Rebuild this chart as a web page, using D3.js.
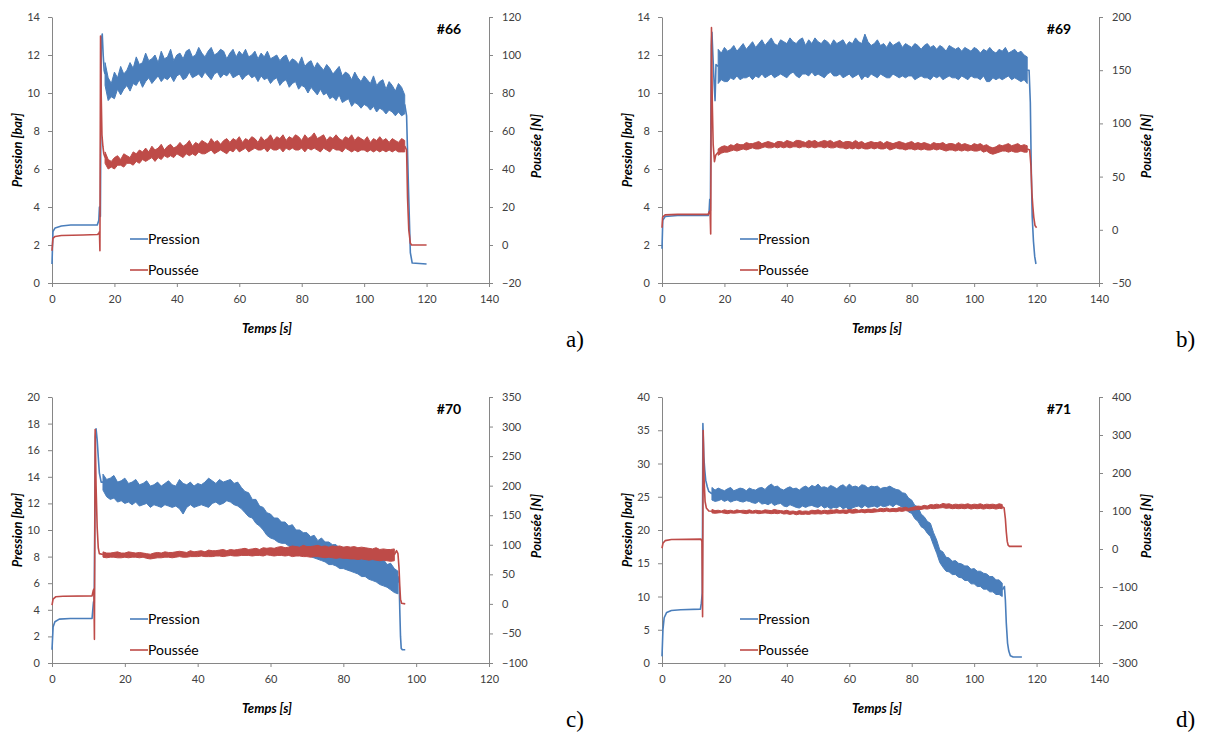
<!DOCTYPE html>
<html><head><meta charset="utf-8">
<script src="https://cdn.jsdelivr.net/npm/d3@7"></script>
<style>body{margin:0;background:#fff}svg{display:block}</style>
</head><body>
<svg id="chart" width="1206" height="735"></svg>
<script>
// ---------------- DATA ----------------
const seriesNames = ["Pression", "Poussée"];
const testIds = ["#66", "#69", "#70", "#71"];
const panelLetters = ["a)", "b)", "c)", "d)"];

const xTicks66 = [0,20,40,60,80,100,120,140];
const xTicks69 = [0,20,40,60,80,100,120,140];
const xTicks70 = [0,20,40,60,80,100,120];
const xTicks71 = [0,20,40,60,80,100,120,140];
const pTicks66 = [0,2,4,6,8,10,12,14];
const pTicks69 = [0,2,4,6,8,10,12,14];
const pTicks70 = [0,2,4,6,8,10,12,14,16,18,20];
const pTicks71 = [0,5,10,15,20,25,30,35,40];
const fTicks66 = [-20,0,20,40,60,80,100,120];
const fTicks69 = [-50,0,50,100,150,200];
const fTicks70 = [-100,-50,0,50,100,150,200,250,300,350];
const fTicks71 = [-300,-200,-100,0,100,200,300,400];

// Each signal: head [t,v] pairs, a noisy steady part given as per-second
// max (Hi) / min (Lo) envelopes starting at *Start, and tail [t,v] pairs.
// Pressure in bar, thrust (Poussée) in N.

// ---- #66 ----
const pres66Head = [[0,1.0],[0.3,2.7],[1,2.9],[3,3.0],[6,3.05],[10,3.05],[14.5,3.05],[15,3.3],[15.2,4.0],[15.5,3.5],[15.8,12.8],[16.1,13.1],[16.4,12.0],[16.7,11.2]];
const pres66Start = 17;
const pres66Hi = [11.6,10.8,10.5,11.1,10.8,11.4,11.0,11.2,11.6,11.3, 11.9,11.5,11.6,12.1,11.7,11.8,12.0,11.6,12.2,11.8, 11.9,12.3,11.7,12.0,12.1,11.8,12.2,12.3,11.9,12.0, 12.4,12.1,11.9,12.2,12.4,12.0,12.1,12.3,12.2,11.8, 12.1,12.3,11.9,12.2,12.0,12.3,11.9,12.0,12.2,11.8, 12.1,11.9,12.2,11.8,11.9,12.0,11.7,11.9,12.0,11.6, 11.8,11.7,11.5,11.9,11.4,11.6,11.7,11.3,11.6,11.4, 11.2,11.5,11.3,11.0,11.2,11.4,10.9,11.1,11.0,10.7, 11.1,10.8,10.6,10.9,10.7,10.5,10.9,10.4,10.6,10.7, 10.2,10.6,10.4,10.1,10.5,10.3,9.9];
const pres66Lo = [10.4,9.6,9.8,9.7,10.2,9.9,10.2,10.4,10.1,10.5, 10.4,10.7,10.3,10.6,10.8,10.5,10.7,10.9,10.6,10.8, 10.7,10.9,10.6,10.9,11.0,10.7,10.8,11.1,10.8,10.9, 11.0,10.8,11.1,10.9,10.7,11.0,11.1,10.8,11.0,10.9, 11.1,10.8,10.9,11.0,10.7,10.9,11.0,10.8,10.9,10.6, 10.9,10.7,10.8,10.5,10.7,10.8,10.4,10.6,10.7,10.3, 10.5,10.6,10.2,10.4,10.3,10.0,10.3,10.1,9.9,10.2, 9.9,10.0,9.7,9.8,9.6,9.9,9.5,9.6,9.7,9.3, 9.5,9.4,9.2,9.4,9.3,9.1,9.3,9.0,9.2,9.1, 8.9,9.1,9.0,8.8,9.0,8.8,8.9];
const pres66Tail = [[113.6,8.8],[114.2,5.0],[114.8,1.6],[115.4,1.05],[120,1.0]];
const thr66Head = [[0,-3],[0.3,3.5],[1,4.5],[3,5],[10,5.3],[14.5,5.5],[15,6],[15.2,7],[15.35,-3],[15.55,110],[15.75,80],[16,58],[16.3,52],[16.6,48]];
const thr66Start = 17;
const thr66Hi = [49,45,44,46,47,45,48,47,46,49, 48,50,49,51,49,52,50,51,53,50, 52,53,51,52,54,52,53,55,52,54, 53,55,54,53,56,54,55,53,55,56, 54,56,55,57,54,56,55,57,56,54, 57,55,56,58,55,57,56,58,55,57, 56,58,57,55,58,56,57,59,56,57, 58,55,57,56,58,56,55,57,56,58, 55,57,56,55,57,54,56,55,57,55, 56,54,56,55,54,56,55];
const thr66Lo = [43,40,41,40,42,42,41,43,43,42, 44,43,45,44,45,46,44,46,45,47, 46,47,46,48,47,46,48,47,48,47, 49,48,48,49,50,48,49,50,49,48, 50,49,51,49,50,51,49,50,51,50, 50,51,49,51,50,50,51,49,51,50, 51,50,50,51,49,51,50,51,50,49, 51,50,49,51,50,50,49,51,50,49, 50,49,50,50,49,50,49,50,49,50, 49,50,49,50,49,49,49];
const thr66Tail = [[113.6,50],[113.9,25],[114.3,8],[114.8,1],[115.2,0],[120,0]];

// ---- #69 ----
const pres69Head = [[0,1.8],[0.25,3.3],[1,3.5],[5,3.55],[14.8,3.55],[15.1,3.8],[15.3,4.4],[15.5,3.8],[15.8,12.5],[16.0,13.2],[16.3,12.0],[16.7,10.5],[17,9.6],[17.3,11.5]];
const pres69Start = 18;
const pres69Hi = [12.3,12.1,12.4,12.2,12.3,12.5,12.2,12.4,12.6,12.3, 12.5,12.7,12.4,12.6,12.8,12.5,12.7,12.9,12.6,12.5, 12.8,12.7,12.6,12.9,12.7,12.6,12.8,12.9,12.5,12.8, 12.6,12.9,12.7,12.6,12.8,12.7,12.5,12.8,12.6,12.7, 12.8,12.5,12.7,12.6,12.9,12.7,12.6,13.1,12.7,12.5, 12.6,12.8,12.5,12.6,12.4,12.7,12.5,12.6,12.7,12.4, 12.6,12.5,12.4,12.6,12.5,12.3,12.5,12.6,12.4,12.5, 12.3,12.5,12.4,12.2,12.5,12.4,12.3,12.4,12.2,12.4, 12.3,12.2,12.4,12.3,12.1,12.3,12.2,12.4,12.2,12.1, 12.3,12.2,12.4,12.1,12.2,12.3,12.1,12.2,12.0,11.9];
const pres69Lo = [10.5,10.7,10.6,10.6,10.8,10.7,10.9,10.7,10.8,10.8, 10.9,10.7,10.9,10.8,11.0,10.8,10.9,11.0,10.8,10.9, 11.0,10.9,10.8,11.0,11.1,10.9,10.8,11.0,11.0,10.9, 11.1,10.9,11.0,10.9,10.8,11.0,11.1,10.9,10.9,11.0, 10.8,10.9,11.0,10.8,10.9,11.0,10.7,10.9,10.8,11.0, 10.9,10.8,11.0,10.9,10.8,10.8,11.0,10.9,10.8,10.9, 10.8,10.9,10.9,10.7,10.8,10.9,10.8,10.8,10.7,10.9, 10.8,10.9,10.7,10.8,10.9,10.8,10.8,10.7,10.9,10.8, 10.7,10.9,10.8,10.8,10.7,10.9,10.6,10.6,10.8,10.7, 10.8,10.7,10.8,10.9,10.7,10.8,10.7,10.6,10.7,10.5];
const pres69Tail = [[117.6,11.2],[118,9.5],[118.3,6],[118.6,3.5],[119,2.2],[119.4,1.4],[119.8,1.0]];
const thr69Head = [[0,2],[0.2,12],[1,14],[5,14.5],[14.8,14.5],[15.2,17],[15.4,18],[15.6,-4],[15.85,190],[16.1,120],[16.4,80],[16.8,64],[17.2,70]];
const thr69Start = 18;
const thr69Hi = [76,78,79,78,80,79,81,80,80,82, 81,81,82,83,81,82,83,82,81,83, 83,82,84,83,82,84,84,83,82,84, 83,84,82,83,84,83,84,82,83,84, 82,83,83,82,84,82,83,81,82,83, 82,82,83,81,83,82,81,82,83,82, 81,82,83,81,82,81,82,81,80,82, 81,81,82,80,81,81,80,82,80,81, 80,79,81,80,81,79,80,78,77,78, 80,79,80,81,79,80,81,79,80,79];
const thr69Lo = [70,72,73,73,74,75,74,75,76,75, 76,77,76,76,77,78,77,77,78,77, 78,77,78,77,78,78,77,78,78,77, 78,77,78,78,77,78,77,77,78,77, 77,76,77,76,77,76,77,76,76,77, 76,77,76,76,77,75,76,77,76,76, 75,76,76,75,76,75,76,75,75,76, 75,76,75,74,75,75,74,75,74,75, 74,75,74,74,75,73,74,72,71,72, 73,74,74,73,74,73,73,74,73,73];
const thr69Tail = [[117.8,75],[118.2,60],[118.5,35],[118.8,22],[119.1,12],[119.5,4],[120,2]];

// ---- #70 ----
const pres70Head = [[0,1.0],[0.3,2.7],[0.8,3.1],[2,3.3],[5,3.35],[11,3.35],[11.2,4.0],[11.4,4.6],[11.6,4.5],[11.9,17.0],[12.1,17.6],[12.4,16.8],[12.7,15.5],[13,14.3],[13.5,13.6]];
const pres70Start = 14;
const pres70Hi = [14.2,13.8,13.9,14.1,13.6,13.7,13.9,13.5,13.6,13.8, 13.4,13.5,13.7,13.3,13.4,13.6,13.3,13.5,13.7,13.4, 13.3,13.8,13.5,13.4,13.6,13.3,13.5,13.4,13.6,13.9, 13.7,13.5,13.8,13.6,13.7,13.8,13.5,13.6,13.2,12.9, 12.8,12.3,12.3,11.8,11.7,11.3,11.2,10.9,10.9,10.6, 10.6,10.3,10.4,10.0,10.0,9.8,9.8,9.5,9.6,9.2, 9.4,9.1,9.1,8.9,8.9,8.6,8.7,8.5,8.5,8.3, 8.3,8.1,8.2,8.0,7.9,7.9,7.7,7.8,7.4,7.5, 7.1,6.9];
const pres70Lo = [13.0,12.5,12.3,12.4,12.1,12.2,12.0,12.1,11.9,12.1, 11.8,11.9,12.0,11.7,11.9,11.8,11.7,11.9,11.8,11.7, 11.8,11.6,11.2,11.7,11.9,11.7,11.8,11.9,11.8,11.7, 12.0,12.1,11.9,12.0,12.2,12.1,11.9,11.8,11.6,11.3, 11.0,10.9,10.5,10.3,10.0,9.6,9.4,9.3,9.1,9.0, 9.0,8.8,8.7,8.6,8.4,8.3,8.2,8.0,7.9,7.8, 7.7,7.6,7.4,7.4,7.3,7.1,7.1,7.0,6.9,6.8, 6.7,6.5,6.5,6.3,6.2,6.1,5.9,5.8,5.7,5.5, 5.3,5.2];
const pres70Tail = [[95.3,6.5],[95.5,4],[95.7,2],[95.9,1.1],[96.2,1.0],[97,1.0]];
const thr70Head = [[0,-2],[0.3,8],[1,12],[3,13],[11,13.5],[11.3,22],[11.5,25],[11.65,-60],[11.85,295],[12.1,200],[12.4,130],[12.7,95],[13,85]];
const thr70Start = 14;
const thr70Hi = [88,86,86,87,88,86,86,88,87,86, 87,86,85,84,86,87,86,88,87,87, 88,89,88,87,90,88,89,90,88,91, 90,90,91,92,90,92,91,92,93,94, 92,93,94,92,95,94,95,94,96,97, 95,96,98,97,96,99,97,97,98,99, 97,98,96,98,97,98,96,97,96,97, 95,96,95,94,93,95,92,93,92,92, 93];
const thr70Lo = [79,78,79,79,78,78,79,78,79,79, 78,79,77,76,77,78,78,79,79,78, 79,80,79,79,80,80,80,81,80,80, 80,81,81,80,81,82,81,81,82,82, 82,81,82,82,81,83,82,81,82,82, 81,82,80,81,81,80,80,79,80,80, 79,78,79,78,77,78,77,77,76,76, 75,76,75,74,75,74,73,74,73,72, 73];
const thr70Tail = [[94.6,90],[95,85],[95.3,60],[95.5,30],[95.7,8],[96,1],[97,0]];

// ---- #71 ----
const pres71Head = [[0,1.0],[0.3,5],[0.7,6.8],[1.5,7.6],[3,7.9],[6,8.0],[12.3,8.1],[12.6,9],[12.9,10.5],[13.1,36],[13.4,31],[13.7,29],[14,27.5],[14.5,26.5],[15,25.8]];
const pres71Start = 16;
const pres71Hi = [26.4,26.0,26.3,26.1,25.9,26.2,26.4,25.9,26.1,26.3, 26.2,25.9,26.3,26.1,26.0,26.3,26.4,26.1,26.6,26.9, 26.5,26.6,26.2,26.0,26.3,26.5,26.2,26.3,26.0,26.4, 26.6,26.3,26.7,26.5,26.9,26.4,26.5,26.3,26.7,26.5, 26.2,26.6,26.8,26.4,26.9,26.5,26.6,26.4,26.8,26.7, 26.3,26.6,26.5,26.6,26.2,26.4,26.4,26.6,26.3,26.1, 26.0,25.6,25.5,24.8,24.5,23.7,23.5,22.4,22.0,21.3, 21.0,19.6,18.5,17.0,16.7,15.9,15.8,15.3,15.4,15.0, 14.9,14.6,14.6,14.1,14.2,13.8,13.8,13.5,13.4,13.0, 13.0,12.5,12.5,12.0];
const pres71Lo = [24.5,24.3,24.4,24.6,24.3,24.5,24.2,24.4,24.5,24.3, 24.2,24.4,24.3,24.1,24.0,24.3,23.9,24.0,23.8,24.1, 23.7,23.9,24.0,23.6,23.5,23.8,23.6,23.4,23.3,23.6, 23.4,23.6,23.7,23.5,23.4,23.7,23.3,23.5,23.2,23.4, 23.3,23.6,23.2,23.4,23.0,23.3,23.5,23.6,23.3,23.7, 23.4,23.5,23.6,23.4,23.7,23.5,23.6,23.8,23.5,23.9, 23.7,23.4,23.3,22.7,22.5,21.7,21.3,20.5,20.2,19.5, 19.0,17.7,16.5,15.1,14.4,13.8,13.7,13.3,13.3,12.9, 12.8,12.4,12.4,11.9,11.9,11.5,11.5,11.1,11.1,10.7, 10.7,10.3,10.3,10.0];
const pres71Tail = [[109.7,11.5],[110,9.5],[110.3,6],[110.7,3],[111.1,1.8],[111.6,1.1],[112.5,0.9],[115.3,0.9]];
const thr71Head = [[0,2],[0.3,15],[1,22],[3,25],[12.5,26],[12.8,20],[13.0,-178],[13.2,312],[13.5,180],[13.8,125],[14.2,108],[15,100]];
const thr71Start = 16;
const thr71Hi = [104,101,102,100,103,101,102,100,103,101, 102,101,103,100,102,101,100,103,102,101, 104,102,101,100,102,99,100,98,101,99, 100,99,102,101,103,100,102,101,103,102, 104,101,103,102,104,103,105,102,104,103, 105,104,106,104,107,106,108,105,107,106, 109,108,110,107,109,111,113,112,115,113, 117,116,118,116,120,118,119,116,118,117, 118,117,119,116,118,117,119,116,118,117, 118,116,119,117];
const thr71Lo = [95,94,95,96,94,93,95,94,95,96, 94,93,95,94,95,93,94,95,94,93, 94,93,95,92,93,91,93,90,92,91, 92,91,93,92,93,92,94,92,93,94, 95,94,95,93,96,94,95,96,97,95, 97,96,97,98,99,98,100,98,99,98, 100,99,101,100,102,103,104,104,106,105, 107,106,107,108,109,107,108,106,107,106, 107,106,108,105,107,106,107,105,107,106, 107,105,107,106];
const thr71Tail = [[109.6,108],[110,80],[110.3,45],[110.6,20],[110.9,10],[111.3,7],[115.3,7]];

// ---------------- LAYOUT ----------------
const W = 437, H = 266;
const BLUE = "#4a7ebb", RED = "#be4b48", AXIS = "#868686";
const FONT = "Lato, 'Open Sans', sans-serif";

function signal(head, start, hi, lo, tail) {
  const band = hi.map((h, i) => ({t: start + i, hi: h, lo: lo[i]}));
  return {head, band, tail};
}

const panels = [
  {ox: 52, oy: 17, id: testIds[0], letter: panelLetters[0], xT: xTicks66, pT: pTicks66, fT: fTicks66,
   pres: signal(pres66Head, pres66Start, pres66Hi, pres66Lo, pres66Tail),
   thr: signal(thr66Head, thr66Start, thr66Hi, thr66Lo, thr66Tail)},
  {ox: 662, oy: 17, id: testIds[1], letter: panelLetters[1], xT: xTicks69, pT: pTicks69, fT: fTicks69,
   pres: signal(pres69Head, pres69Start, pres69Hi, pres69Lo, pres69Tail),
   thr: signal(thr69Head, thr69Start, thr69Hi, thr69Lo, thr69Tail)},
  {ox: 52, oy: 397, id: testIds[2], letter: panelLetters[2], xT: xTicks70, pT: pTicks70, fT: fTicks70,
   pres: signal(pres70Head, pres70Start, pres70Hi, pres70Lo, pres70Tail),
   thr: signal(thr70Head, thr70Start, thr70Hi, thr70Lo, thr70Tail)},
  {ox: 662, oy: 397, id: testIds[3], letter: panelLetters[3], xT: xTicks71, pT: pTicks71, fT: fTicks71,
   pres: signal(pres71Head, pres71Start, pres71Hi, pres71Lo, pres71Tail),
   thr: signal(thr71Head, thr71Start, thr71Hi, thr71Lo, thr71Tail)}
];

const svg = d3.select("#chart");

function styleAxis(sel) {
  sel.select(".domain").attr("stroke", AXIS).attr("stroke-width", 1);
  sel.selectAll(".tick line").attr("stroke", AXIS);
  sel.selectAll(".tick text").attr("fill", "#404040").style("font-family", FONT).style("font-size", "11px");
}

function drawSignal(g, sig, x, y, color) {
  const b = sig.band;
  const area = d3.area().x(d => x(d.t)).y0(d => y(d.lo)).y1(d => y(d.hi));
  g.append("path").datum(b).attr("d", area).attr("fill", color)
    .attr("stroke", color).attr("stroke-width", 1).attr("stroke-linejoin", "miter");
  const first = b[0], last = b[b.length - 1];
  const line = d3.line().x(d => x(d[0])).y(d => y(d[1]));
  const headPts = sig.head.concat([[first.t, (first.hi + first.lo) / 2]]);
  const tailPts = [[last.t, (last.hi + last.lo) / 2]].concat(sig.tail);
  [headPts, tailPts].forEach(pts => {
    g.append("path").datum(pts).attr("d", line).attr("fill", "none")
      .attr("stroke", color).attr("stroke-width", 1.6).attr("stroke-linejoin", "round");
  });
}

panels.forEach(p => {
  const g = svg.append("g").attr("transform", `translate(${p.ox},${p.oy})`);
  const x = d3.scaleLinear().domain([p.xT[0], p.xT[p.xT.length - 1]]).range([0, W]);
  const yL = d3.scaleLinear().domain([p.pT[0], p.pT[p.pT.length - 1]]).range([H, 0]);
  const yR = d3.scaleLinear().domain([p.fT[0], p.fT[p.fT.length - 1]]).range([H, 0]);

  g.append("g").attr("transform", `translate(0,${H})`)
    .call(d3.axisBottom(x).tickValues(p.xT).tickSize(4).tickSizeOuter(0).tickPadding(8)).call(styleAxis);
  g.append("g").call(d3.axisLeft(yL).tickValues(p.pT).tickSize(4).tickSizeOuter(0).tickPadding(8)).call(styleAxis);
  g.append("g").attr("transform", `translate(${W},0)`)
    .call(d3.axisRight(yR).tickValues(p.fT).tickSize(4).tickSizeOuter(0).tickPadding(9)).call(styleAxis);

  drawSignal(g, p.pres, x, yL, BLUE);
  drawSignal(g, p.thr, x, yR, RED);

  const titleStyle = s => s.style("font-family", FONT).style("font-size", "13px")
    .style("font-weight", "bold").style("font-style", "italic");
  g.append("text").attr("transform", `translate(-30,${H / 2}) rotate(-90)`).attr("text-anchor", "middle")
    .call(titleStyle).text("Pression [bar]");
  g.append("text").attr("transform", `translate(${W + 52},${H / 2 - 4}) rotate(-90)`).attr("text-anchor", "middle")
    .call(titleStyle).text("Poussée [N]");
  g.append("text").attr("x", 215).attr("y", H + 50).attr("text-anchor", "middle")
    .call(titleStyle).text("Temps [s]");
  g.append("text").attr("x", 397).attr("y", 17).attr("text-anchor", "middle")
    .style("font-family", FONT).style("font-size", "14px").style("font-weight", "bold").text(p.id);

  const colors = [BLUE, RED];
  seriesNames.forEach((name, i) => {
    const ly = 222 + i * 31;
    g.append("line").attr("x1", 78).attr("x2", 96).attr("y1", ly).attr("y2", ly)
      .attr("stroke", colors[i]).attr("stroke-width", 1.6);
    g.append("text").attr("x", 96).attr("y", ly + 5)
      .style("font-family", FONT).style("font-size", "14px").attr("fill", "#000").text(name);
  });

  g.append("text").attr("x", W + 77).attr("y", H + 64)
    .style("font-family", "'Liberation Serif', 'DejaVu Serif', serif").style("font-size", "23px").text(p.letter);
});
</script>
</body></html>
